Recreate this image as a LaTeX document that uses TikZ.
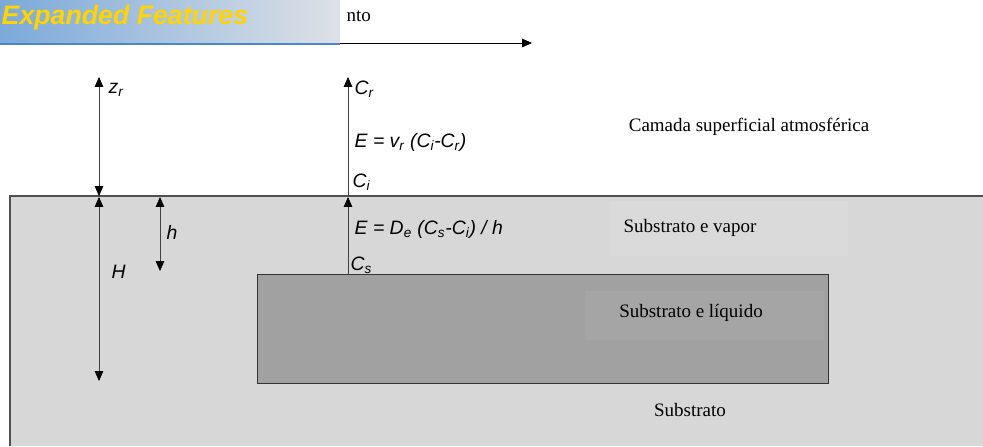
\documentclass[tikz,border=0pt]{standalone}
\usepackage{fontspec}
\setmainfont{Liberation Serif}
\setsansfont{Liberation Sans}
\usetikzlibrary{arrows.meta}

\definecolor{soil}{HTML}{D7D7D7}
\definecolor{soilhi}{HTML}{DADADA}
\definecolor{wet}{HTML}{A1A1A1}
\definecolor{wethi}{HTML}{A5A5A5}
\definecolor{edgegray}{HTML}{505050}
\definecolor{bannerblue}{HTML}{7BA9DA}
\definecolor{bannergray}{HTML}{DEE1E6}
\definecolor{bannerline}{HTML}{4A86C8}
\definecolor{bannertext}{HTML}{FFD400}

\begin{document}
\begin{tikzpicture}[
  x=0.025cm, y=-0.025cm,
  every node/.style={inner sep=1pt},
  lbl/.style={font=\sffamily\itshape\fontsize{13.8}{16}\selectfont, anchor=west},
  layer/.style={font=\fontsize{13.5}{16}\selectfont},
  arrow/.style={draw=black!75, line width=0.5pt, -{Triangle[length=7pt, width=6pt, black]}},
  darrow/.style={draw=black!75, line width=0.5pt,
    {Triangle[length=7pt, width=6pt, black]}-{Triangle[length=7pt, width=6pt, black]}}]

  \useasboundingbox (0,0) rectangle (983,446);

  % layers
  \fill[soil] (10,196) rectangle (983,446);
  \draw[edgegray, line width=1pt] (983,196) -- (10,196) -- (10,446);
  \fill[soilhi] (610,201) rectangle (848,256);
  \draw[fill=wet, draw=black!80, line width=0.6pt] (257,274) rectangle (828,383);
  \fill[wethi] (585,291) rectangle (824,340);

  % banner
  \shade[left color=bannerblue, right color=bannergray] (0,0) rectangle (340,44);
  \draw[bannerline, line width=1.2pt] (0,44) -- (340,44);
  \node[anchor=west, text=bannertext, font=\sffamily\bfseries\itshape\fontsize{19}{22}\selectfont]
    (banner) at (0,18) {Expanded Features};

  % wind
  \node[layer, anchor=west] (wind) at (345,16) {nto};
  \coordinate (windL) at (340,43);
  \coordinate (windR) at (532,43);
  \draw[arrow, draw=black] (windL) -- (windR);

  % points
  \coordinate (zrTop) at (99,77);
  \coordinate (zrBot) at (99,196);
  \coordinate (HTop)  at (99,197);
  \coordinate (HBot)  at (99,381);
  \coordinate (hTop)  at (160,197);
  \coordinate (hBot)  at (160,271);
  \coordinate (Ctop)  at (348,77);
  \coordinate (Csurf) at (348,196);
  \coordinate (Cin)   at (348,197);
  \coordinate (Cbot)  at (348,274);

  % heights
  \draw[darrow] (zrBot) -- (zrTop);
  \draw[darrow] (HTop) -- (HBot);
  \draw[darrow] (hTop) -- (hBot);
  \node[lbl] (zr) at (107,90) {z\textsubscript{r}};
  \node[lbl] (H)  at (110,272) {H};
  \node[lbl] (h)  at (165,232) {h};

  % fluxes
  \draw[arrow] (Cbot) -- (Cin);
  \draw[arrow] (Csurf) -- (Ctop);
  \node[lbl] (Cr) at (353,89)  {C\textsubscript{r}};
  \node[lbl] (E1) at (353,142) {E = v\textsubscript{r} (C\textsubscript{i}-C\textsubscript{r})};
  \node[lbl] (Ci) at (351,182) {C\textsubscript{i}};
  \node[lbl] (E2) at (353,229) {E = D\textsubscript{e} (C\textsubscript{s}-C\textsubscript{i}) / h};
  \node[lbl] (Cs) at (349,265) {C\textsubscript{s}};

  % layer names
  \node[layer] (air)    at (749,127) {Camada superficial atmosférica};
  \node[layer] (vapor)  at (690,228) {Substrato e vapor};
  \node[layer] (liquid) at (691,313) {Substrato e líquido};
  \node[layer] (solid)  at (690,410) {Substrato};

\end{tikzpicture}
\end{document}
